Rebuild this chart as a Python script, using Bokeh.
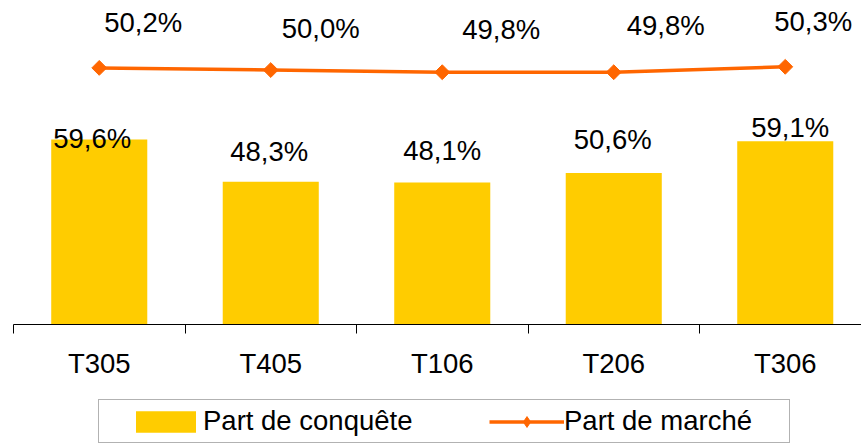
import math
from bokeh.plotting import figure
from bokeh.layouts import column
from bokeh.models import Range1d, FixedTicker, Legend, LegendItem, ColumnDataSource
from bokeh.core.properties import value
from bokeh.embed import file_html
from bokeh.resources import INLINE

# ---- data ----
categories = ["T305", "T405", "T106", "T206", "T306"]
part_conquete = [59.6, 48.3, 48.1, 50.6, 59.1]   # bars
part_marche = [50.2, 50.0, 49.8, 49.8, 50.3]     # line

def fmt(v):
    return f"{v:.1f}%".replace(".", ",")

# ---- styles ----
BAR_COLOR = "#FFCC00"
LINE_COLOR = "#FF6600"
FONT = "Liberation Sans"
FS = "27.5px"
bar_lbl_dx = [-7, -1.5, 0, -1, 5]
bar_lbl_dy = [-1, -30, -32, -34, -14]
line_lbl_dx = [44, 50, 59, 52, 28]
line_lbl_dy = [-45, -42, -43, -47, -45]

xs = list(range(len(categories)))

p = figure(width=861, height=399, output_backend="svg", toolbar_location=None,
           x_range=Range1d(-0.5, -0.5 + 848 / 171.5), y_range=Range1d(10, 96.86),
           y_axis_location=None, min_border_left=13, min_border_right=0,
           min_border_top=0, min_border_bottom=75)
p.extra_y_ranges = {"share": Range1d(26.44, 56.44)}
p.grid.visible = False
p.outline_line_color = None
p.background_fill_color = "white"
p.border_fill_color = "white"

src_bar = ColumnDataSource(dict(x=xs, top=part_conquete,
                                label=[fmt(v) for v in part_conquete],
                                dx=bar_lbl_dx, dy=bar_lbl_dy))
bars = p.vbar(x="x", top="top", bottom=10, width=0.56, source=src_bar,
              fill_color=BAR_COLOR, line_color=None)
p.text(x="x", y="top", text="label", x_offset="dx", y_offset="dy", source=src_bar,
       text_font=value(FONT), text_font_size=FS, text_align="center",
       text_baseline="middle", text_color="black")

src_line = ColumnDataSource(dict(x=xs, y=part_marche,
                                 label=[fmt(v) for v in part_marche],
                                 dx=line_lbl_dx, dy=line_lbl_dy))
ln = p.line("x", "y", source=src_line, line_color=LINE_COLOR, line_width=3.5,
            y_range_name="share")
mk = p.scatter("x", "y", source=src_line, marker="square", angle=math.pi / 4, size=10.5,
               fill_color=LINE_COLOR, line_color=LINE_COLOR, y_range_name="share")
p.text(x="x", y="y", text="label", x_offset="dx", y_offset="dy", source=src_line,
       text_font=value(FONT), text_font_size=FS, text_align="center",
       text_baseline="middle", text_color="black", y_range_name="share")

ax = p.xaxis[0]
ax.ticker = FixedTicker(ticks=xs, minor_ticks=[x - 0.5 for x in range(len(categories) + 1)])
ax.major_label_overrides = {x: c for x, c in zip(xs, categories)}
ax.major_tick_in = 0
ax.major_tick_out = 0
ax.minor_tick_in = 0
ax.minor_tick_out = 9
ax.minor_tick_line_color = "black"
ax.axis_line_color = "black"
ax.major_label_standoff = 14
ax.major_label_text_font = FONT
ax.major_label_text_font_size = FS
ax.major_label_text_color = "black"

# ---- legend strip (its own plot; renderers hidden, used only for swatches) ----
leg = figure(width=861, height=44, output_backend="svg", toolbar_location=None,
             x_range=p.x_range, y_range=p.y_range,
             x_axis_location=None, y_axis_location=None,
             min_border_left=0, min_border_right=0, min_border_top=0, min_border_bottom=0)
leg.extra_y_ranges = {"share": p.extra_y_ranges["share"]}
leg.grid.visible = False
leg.outline_line_color = None
leg.background_fill_color = "white"
leg.border_fill_color = "white"
lb = leg.vbar(x="x", top="top", bottom=10, width=0.56, source=src_bar,
              fill_color=BAR_COLOR, line_color=None, visible=False)
ll = leg.line("x", "y", source=src_line, line_color=LINE_COLOR, line_width=3.5,
              y_range_name="share", visible=False)
lm = leg.scatter("x", "y", source=src_line, marker="diamond", size=15,
                 fill_color=LINE_COLOR, line_color=LINE_COLOR, y_range_name="share",
                 visible=False)

legend = Legend(items=[LegendItem(label="Part de conquête", renderers=[lb]),
                       LegendItem(label="Part de marché", renderers=[ll, lm])],
                orientation="horizontal", location=(85, 0), margin=0, padding=5,
                spacing=66, glyph_width=75, glyph_height=27, label_width=220,
                label_height=32, label_standoff=0, label_text_font=FONT,
                label_text_font_size=FS, label_text_color="black",
                title=" ", title_location="left", title_text_font_size="10px",
                title_standoff=13,
                border_line_color="#666666", border_line_width=1,
                background_fill_alpha=0)
leg.add_layout(legend, "center")

layout = column(p, leg, spacing=0)
open("out.html", "w").write(file_html(layout, INLINE))
